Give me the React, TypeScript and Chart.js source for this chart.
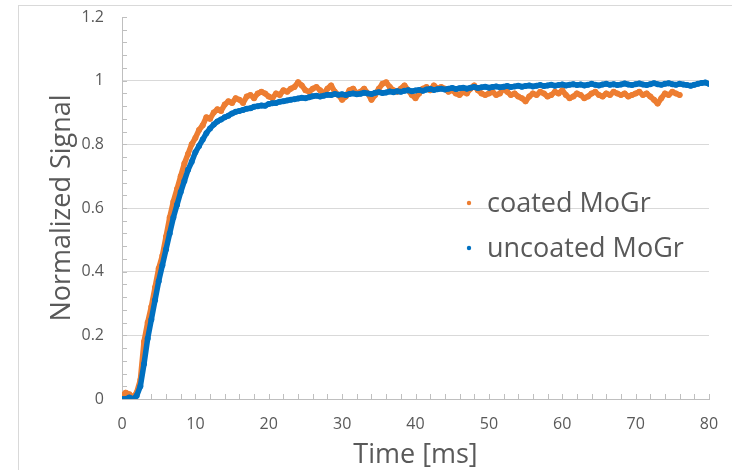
import React, { useEffect, useRef } from "react";
import { Chart, registerables } from "chart.js";

Chart.register(...registerables);

// Sampling interval of the traces (ms)
const timeStepMs = 0.5;

const seriesNames = ["coated MoGr", "uncoated MoGr"];
const seriesColors = ["#ED7D31", "#0070C0"];

// coated MoGr, t = 0 .. 76 ms every 0.5 ms
const coatedSignal = [
  0.01, 0.02, 0.015, 0.005, 0.02, 0.06, 0.18, 0.24, 0.29, 0.35,
  0.41, 0.45, 0.51, 0.57, 0.62, 0.66, 0.70, 0.74, 0.77, 0.80,
  0.82, 0.845, 0.86, 0.885, 0.88, 0.90, 0.91, 0.905, 0.925, 0.935,
  0.93, 0.945, 0.94, 0.93, 0.95, 0.955, 0.945, 0.96, 0.965, 0.96,
  0.95, 0.945, 0.96, 0.955, 0.97, 0.965, 0.975, 0.98, 0.995, 0.985,
  0.97, 0.965, 0.975, 0.98, 0.97, 0.96, 0.975, 0.985, 0.965, 0.955,
  0.94, 0.95, 0.97, 0.975, 0.96, 0.965, 0.975, 0.96, 0.94, 0.955,
  0.975, 0.99, 0.995, 0.98, 0.97, 0.965, 0.975, 0.985, 0.97, 0.955,
  0.945, 0.96, 0.975, 0.98, 0.97, 0.985, 0.975, 0.98, 0.975, 0.965,
  0.97, 0.96, 0.955, 0.965, 0.96, 0.975, 0.985, 0.97, 0.96, 0.955,
  0.96, 0.965, 0.955, 0.96, 0.975, 0.965, 0.955, 0.96, 0.95, 0.945,
  0.935, 0.95, 0.96, 0.955, 0.965, 0.96, 0.95, 0.955, 0.965, 0.96,
  0.97, 0.955, 0.945, 0.95, 0.96, 0.955, 0.945, 0.95, 0.96, 0.965,
  0.955, 0.95, 0.96, 0.955, 0.965, 0.96, 0.955, 0.96, 0.95, 0.955,
  0.96, 0.965, 0.955, 0.96, 0.95, 0.94, 0.928, 0.945, 0.96, 0.955,
  0.965, 0.96, 0.955,
];

// uncoated MoGr, t = 0 .. 80 ms every 0.5 ms
const uncoatedSignal = [
  0.0, 0.0, 0.005, 0.0, 0.01, 0.04, 0.11, 0.19, 0.25, 0.31,
  0.37, 0.42, 0.47, 0.52, 0.57, 0.61, 0.65, 0.685, 0.72, 0.745,
  0.775, 0.795, 0.815, 0.835, 0.85, 0.862, 0.872, 0.878, 0.885, 0.89,
  0.897, 0.902, 0.905, 0.908, 0.912, 0.913, 0.918, 0.92, 0.922, 0.921,
  0.927, 0.929, 0.93, 0.934, 0.935, 0.938, 0.94, 0.942, 0.944, 0.946,
  0.945, 0.948, 0.951, 0.953, 0.95, 0.953, 0.956, 0.955, 0.958, 0.956,
  0.957, 0.955, 0.958, 0.96, 0.957, 0.959, 0.962, 0.96, 0.958, 0.962,
  0.964, 0.961, 0.963, 0.966, 0.964, 0.967, 0.965, 0.968, 0.97, 0.967,
  0.969, 0.971, 0.968, 0.972, 0.974, 0.971, 0.973, 0.975, 0.972, 0.975,
  0.977, 0.974, 0.976, 0.978, 0.975, 0.978, 0.98, 0.977, 0.979, 0.981,
  0.978, 0.98, 0.982, 0.979, 0.981, 0.983, 0.98, 0.982, 0.984, 0.981,
  0.983, 0.985, 0.982, 0.984, 0.986, 0.983, 0.985, 0.987, 0.984, 0.986,
  0.988, 0.985, 0.987, 0.989, 0.986, 0.988, 0.985, 0.987, 0.99, 0.987,
  0.985, 0.988, 0.99, 0.987, 0.989, 0.986, 0.988, 0.991, 0.988, 0.986,
  0.989, 0.991, 0.988, 0.986, 0.989, 0.992, 0.989, 0.987, 0.99, 0.992,
  0.989, 0.987, 0.99, 0.988, 0.986, 0.984, 0.987, 0.99, 0.993, 0.994,
  0.99,
];

const xMin = 0;
const xMax = 80;
const xStep = 10;
const xMinorStep = 2;
const yMin = 0;
const yMax = 1.2;
const yStep = 0.2;
const yMinorStep = 0.04;

const xTitle = "Time [ms]";
const yTitle = "Normalized Signal";

const FONT = "'Open Sans', Lato, sans-serif";
const TEXT = "#595959";
const AXIS = "#bfbfbf";
const GRID = "#d9d9d9";

const toPoints = (vals: number[]) =>
  vals.map((v, i) => ({ x: i * timeStepMs, y: v }));

const decorPlugin = {
  id: "decor",
  beforeDatasetsDraw(chart: any) {
    const { ctx, chartArea, scales } = chart;
    const x = scales.x;
    const y = scales.y;
    ctx.save();
    ctx.strokeStyle = AXIS;
    ctx.lineWidth = 1;
    ctx.beginPath();
    for (let v = yMin; v <= yMax + 1e-9; v += yMinorStep) {
      const py = Math.round(y.getPixelForValue(v)) + 0.5;
      ctx.moveTo(chartArea.left, py);
      ctx.lineTo(chartArea.left + 5, py);
    }
    for (let v = xMin; v <= xMax + 1e-9; v += xMinorStep) {
      const px = Math.round(x.getPixelForValue(v)) + 0.5;
      ctx.moveTo(px, chartArea.bottom);
      ctx.lineTo(px, chartArea.bottom - 5);
    }
    ctx.stroke();
    ctx.restore();
  },
  afterDraw(chart: any) {
    const { ctx, chartArea } = chart;
    ctx.save();
    ctx.font = `27px ${FONT}`;
    ctx.textBaseline = "middle";
    ctx.textAlign = "left";
    const baseX = chartArea.left + 347;
    const rows = [chartArea.top + 186, chartArea.top + 231];
    seriesNames.forEach((name, i) => {
      ctx.fillStyle = seriesColors[i];
      ctx.beginPath();
      ctx.arc(baseX, rows[i], 2.2, 0, Math.PI * 2);
      ctx.fill();
      ctx.fillStyle = TEXT;
      ctx.fillText(name, baseX + 18, rows[i] + 1);
    });
    ctx.restore();
  },
};

export default function App() {
  const ref = useRef<HTMLCanvasElement | null>(null);

  useEffect(() => {
    if (!ref.current) return;
    const chart = new Chart(ref.current, {
      type: "scatter",
      data: {
        datasets: [
          {
            label: seriesNames[1],
            data: toPoints(uncoatedSignal),
            showLine: true,
            borderColor: seriesColors[1],
            backgroundColor: seriesColors[1],
            borderWidth: 5.5,
            pointRadius: 3,
            pointBorderWidth: 0,
            borderJoinStyle: "round",
            borderCapStyle: "round",
          },
          {
            label: seriesNames[0],
            data: toPoints(coatedSignal),
            showLine: true,
            borderColor: seriesColors[0],
            backgroundColor: seriesColors[0],
            borderWidth: 5.5,
            pointRadius: 3,
            pointBorderWidth: 0,
            borderJoinStyle: "round",
            borderCapStyle: "round",
          },
        ],
      },
      options: {
        animation: false,
        responsive: false,
        maintainAspectRatio: false,
        layout: { padding: { left: 20, top: 17, right: 23, bottom: 0 } },
        plugins: {
          legend: { display: false },
          tooltip: { enabled: false },
        },
        scales: {
          x: {
            type: "linear",
            min: xMin,
            max: xMax,
            afterFit: (s: any) => {
              s.height = 71;
              s.paddingLeft = 0;
              s.paddingRight = 0;
            },
            ticks: {
              stepSize: xStep,
              color: TEXT,
              font: { family: FONT, size: 16 },
              padding: 16,
              maxRotation: 0,
            },
            grid: { display: false, drawTicks: false },
            border: { display: true, color: AXIS, width: 1 },
            title: {
              display: true,
              text: xTitle,
              color: TEXT,
              font: { family: FONT, size: 27, lineHeight: 1 },
              padding: { top: 0, bottom: 1.5 },
            },
          },
          y: {
            type: "linear",
            min: yMin,
            max: yMax,
            afterFit: (s: any) => {
              s.width = 102;
              s.paddingTop = 0;
              s.paddingBottom = 0;
            },
            ticks: {
              stepSize: yStep,
              color: TEXT,
              font: { family: FONT, size: 16 },
              padding: 18,
              callback: (v: any) => String(Number(Number(v).toFixed(1))),
            },
            grid: {
              drawTicks: false,
              color: (c: any) =>
                c.tick && Math.abs(c.tick.value - yMax) < 1e-6 ? "rgba(0,0,0,0)" : GRID,
              lineWidth: 1,
            },
            border: { display: true, color: AXIS, width: 1 },
            title: {
              display: true,
              text: yTitle,
              color: TEXT,
              font: { family: FONT, size: 27, lineHeight: 1 },
              padding: { top: 28.5, bottom: 0 },
            },
          },
        },
      },
      plugins: [decorPlugin],
    });
    return () => chart.destroy();
  }, []);

  return (
    <div
      style={{
        position: "absolute",
        left: 0,
        top: 0,
        width: 732,
        height: 470,
        overflow: "hidden",
        background: "#fff",
      }}
    >
      <div
        style={{
          position: "absolute",
          left: 18,
          top: 5,
          width: 800,
          height: 600,
          border: "1px solid #d9d9d9",
          boxSizing: "border-box",
        }}
      />
      <canvas
        ref={ref}
        width={732}
        height={470}
        style={{ position: "absolute", left: 0, top: 0, width: 732, height: 470 }}
      />
    </div>
  );
}
